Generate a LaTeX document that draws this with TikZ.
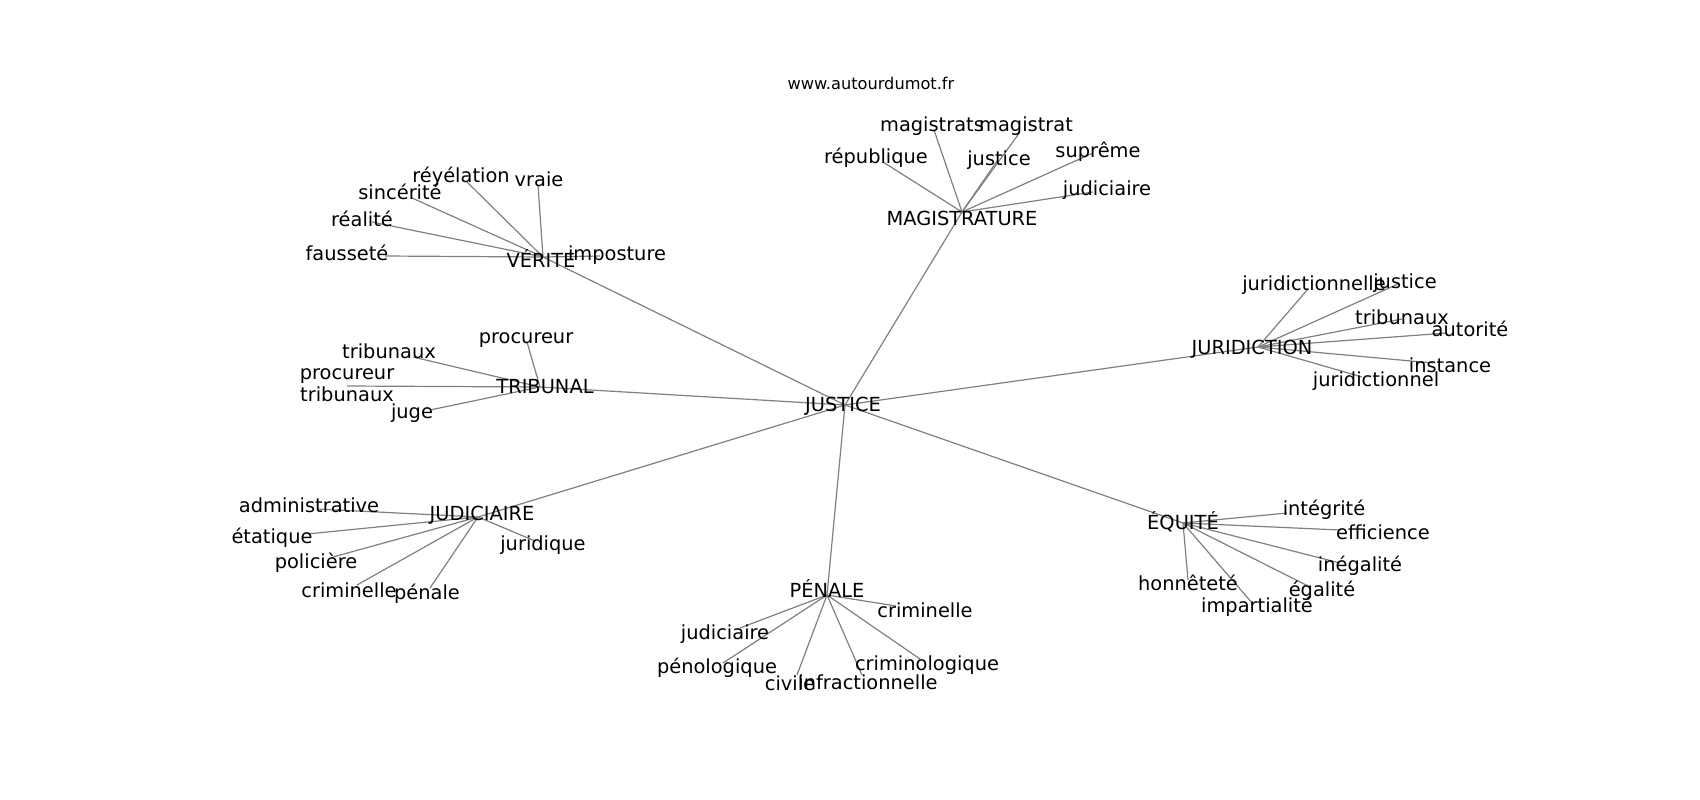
\documentclass[tikz,border=0pt]{standalone}
\usepackage{fontspec}
\setmainfont{DejaVu Sans}
\begin{document}
\begin{tikzpicture}[x=1pt,y=-1pt,
  lbl/.style={font=\fontsize{19.4}{22}\selectfont, inner sep=0pt, anchor=base, text=black},
  ttl/.style={font=\fontsize{16.2}{19}\selectfont, inner sep=0pt, anchor=base, text=black},
  edge/.style={draw=gray, line width=1.2pt}]
\useasboundingbox (0,0) rectangle (1700,800);
\fill[white] (0,0) rectangle (1700,800);
% ---------- node positions (edge ends) ----------
\coordinate (justice) at (845,405);
\coordinate (verite) at (543,257);
\coordinate (v1) at (385,256);
\coordinate (v2) at (372,222);
\coordinate (v3) at (412,198);
\coordinate (v4) at (467,182);
\coordinate (v5) at (538,185);
\coordinate (v6) at (600,256);
\coordinate (tribunal) at (540,387);
\coordinate (t1) at (527,342);
\coordinate (t2) at (413,357);
\coordinate (t3) at (347,386);
\coordinate (t4) at (430,410);
\coordinate (magis) at (962,212);
\coordinate (m1) at (934,130);
\coordinate (m2) at (1020,132);
\coordinate (m3) at (883,162);
\coordinate (m4) at (997,161);
\coordinate (m5) at (1093,153);
\coordinate (m6) at (1093,192);
\coordinate (jurid) at (1258,347);
\coordinate (r1) at (1308,289);
\coordinate (r2) at (1398,284);
\coordinate (r3) at (1402,319);
\coordinate (r4) at (1447,333);
\coordinate (r5) at (1433,363);
\coordinate (r6) at (1362,377);
\coordinate (judic) at (478,517);
\coordinate (d1) at (317,509);
\coordinate (d2) at (307,534);
\coordinate (d3) at (333,557);
\coordinate (d4) at (357,585);
\coordinate (d5) at (430,588);
\coordinate (d6) at (535,541);
\coordinate (penale) at (827,595);
\coordinate (p1) at (896,606);
\coordinate (p2) at (740,628);
\coordinate (p3) at (723,663);
\coordinate (p4) at (797,675);
\coordinate (p5) at (862,675);
\coordinate (p6) at (920,659);
\coordinate (equite) at (1183,523);
\coordinate (e1) at (1287,513);
\coordinate (e2) at (1340,530);
\coordinate (e3) at (1340,563);
\coordinate (e4) at (1310,587);
\coordinate (e5) at (1188,580);
\coordinate (e6) at (1253,604);
% ---------- connectors ----------
\foreach \h in {verite,tribunal,magis,jurid,judic,penale,equite}
  \draw[edge] (justice) -- (\h);
\foreach \n in {v1,v2,v3,v4,v5,v6} \draw[edge] (verite) -- (\n);
\foreach \n in {t1,t2,t3,t4} \draw[edge] (tribunal) -- (\n);
\foreach \n in {m1,m2,m3,m4,m5,m6} \draw[edge] (magis) -- (\n);
\foreach \n in {r1,r2,r3,r4,r5,r6} \draw[edge] (jurid) -- (\n);
\foreach \n in {d1,d2,d3,d4,d5,d6} \draw[edge] (judic) -- (\n);
\foreach \n in {p1,p2,p3,p4,p5,p6} \draw[edge] (penale) -- (\n);
\foreach \n in {e1,e2,e3,e4,e5,e6} \draw[edge] (equite) -- (\n);
% ---------- labels ----------
\node[ttl] (title) at (871,89) {www.autourdumot.fr};
\node[lbl] (l-justice) at (843,411) {JUSTICE};
\node[lbl] (l-verite) at (541,267) {VÉRITE};
\node[lbl] (l-v1) at (347,260) {fausseté};
\node[lbl] (l-v2) at (362,226) {réalité};
\node[lbl] (l-v3) at (400,199) {sincérité};
\node[lbl] (l-v4) at (461,182) {réyélation};
\node[lbl] (l-v5) at (539,186) {vraie};
\node[lbl] (l-v6) at (617,260) {imposture};
\node[lbl] (l-tribunal) at (545,393) {TRIBUNAL};
\node[lbl] (l-t1) at (526,343) {procureur};
\node[lbl] (l-t2) at (389,358) {tribunaux};
\node[lbl, align=center] (l-t3) at (347,401) {procureur\\tribunaux};
\node[lbl] (l-t4) at (412,418) {juge};
\node[lbl] (l-magis) at (962,225) {MAGISTRATURE};
\node[lbl] (l-m1) at (932,131) {magistrats};
\node[lbl] (l-m2) at (1026,131) {magistrat};
\node[lbl] (l-m3) at (876,163) {république};
\node[lbl] (l-m4) at (999,165) {justice};
\node[lbl] (l-m5) at (1098,157) {suprême};
\node[lbl] (l-m6) at (1107,195) {judiciaire};
\node[lbl] (l-jurid) at (1252,354) {JURIDICTION};
\node[lbl] (l-r1) at (1314,290) {juridictionnelle};
\node[lbl] (l-r2) at (1405,288) {justice};
\node[lbl] (l-r3) at (1402,324) {tribunaux};
\node[lbl] (l-r4) at (1470,336) {autorité};
\node[lbl] (l-r5) at (1450,372) {instance};
\node[lbl] (l-r6) at (1376,386) {juridictionnel};
\node[lbl] (l-judic) at (482,520) {JUDICIAIRE};
\node[lbl] (l-d1) at (309,512) {administrative};
\node[lbl] (l-d2) at (272,543) {étatique};
\node[lbl] (l-d3) at (316,568) {policière};
\node[lbl] (l-d4) at (349,597) {criminelle};
\node[lbl] (l-d5) at (427,599) {pénale};
\node[lbl] (l-d6) at (543,550) {juridique};
\node[lbl] (l-penale) at (827,597) {PÉNALE};
\node[lbl] (l-p1) at (925,617) {criminelle};
\node[lbl] (l-p2) at (725,639) {judiciaire};
\node[lbl] (l-p3) at (717,673) {pénologique};
\node[lbl] (l-p4) at (790,690) {civile};
\node[lbl] (l-p5) at (868,689) {infractionnelle};
\node[lbl] (l-p6) at (927,670) {criminologique};
\node[lbl] (l-equite) at (1183,529) {ÉQUITÉ};
\node[lbl] (l-e1) at (1324,515) {intégrité};
\node[lbl] (l-e2) at (1383,539) {efficience};
\node[lbl] (l-e3) at (1360,571) {inégalité};
\node[lbl] (l-e4) at (1322,596) {égalité};
\node[lbl] (l-e5) at (1188,590) {honnêteté};
\node[lbl] (l-e6) at (1257,612) {impartialité};
\end{tikzpicture}
\end{document}
